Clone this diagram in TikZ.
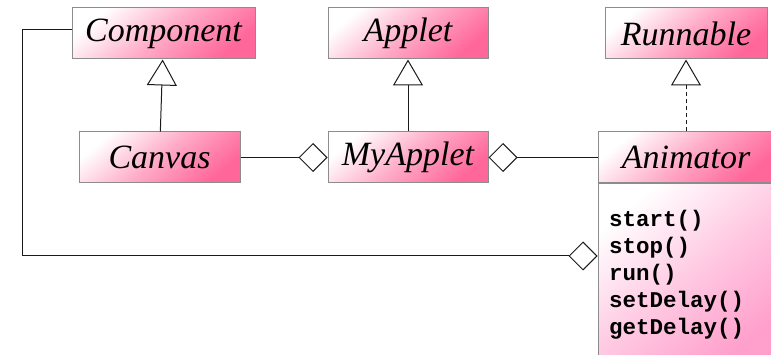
\documentclass[tikz,border=0pt]{standalone}
\usepackage{fontspec}
\setmainfont{Liberation Serif}
\setmonofont{Liberation Mono}
\usetikzlibrary{arrows.meta}
\definecolor{UmlBorder}{HTML}{8C8C8C}
\definecolor{UmlHead}{HTML}{FF6699}
\definecolor{UmlBody}{HTML}{FFA0CC}
\definecolor{UmlLine}{HTML}{1A1A1A}

\begin{document}
\begin{tikzpicture}[x=1pt, y=-1pt,
        cls/.style={draw=UmlBorder, line width=1pt, shading=axis, top color=white, bottom color=UmlHead, middle color=UmlHead!55, shading angle=40, minimum height=51pt, inner sep=0pt, font=\fontsize{34}{38}\selectfont\itshape},
        ops/.style={draw=UmlBorder, line width=1pt, shading=axis, top color=white, bottom color=UmlBody, middle color=UmlBody!55, shading angle=40, minimum width=176pt, minimum height=182pt, inner sep=0pt, inner xsep=11pt, align=left, anchor=north, font=\fontsize{22.5}{27}\selectfont\ttfamily\bfseries},
        conn/.style={draw=UmlLine, line width=1pt},
        inherit/.style={conn, -{Triangle[open, length=26pt, width=30pt, fill=white]}},
        realize/.style={inherit, dash pattern=on 4pt off 3pt},
        aggr/.style={conn, -{Diamond[open, length=29pt, width=29pt, fill=white]}}
    ]
        \useasboundingbox (0,0) rectangle (771,355);

        % Top row: base classes and interface
        \node[cls, minimum width=183pt] (component) at (163.5, 33.5) {Component};
        \node[cls, minimum width=160pt] (applet) at (408, 33.5) {Applet};
        \node[cls, minimum width=162pt] (runnable) at (686, 33.5) {Runnable};

        % Middle row
        \node[cls, minimum width=161pt] (canvas) at (159.5, 157.5) {Canvas};
        \node[cls, minimum width=160pt] (myapplet) at (408, 157.5) {MyApplet};
        \node[cls, minimum width=176pt] (animator) at (686, 157.5) {Animator};
        \node[ops, text width=154pt] (methods) at (animator.south) {start()\\stop()\\run()\\setDelay()\\getDelay()};

        % Connections
        \draw[inherit] (canvas) -- (component);
        \draw[inherit] (myapplet) -- (applet);
        \draw[realize] (animator) -- (runnable);
        \draw[aggr] (canvas) -- (myapplet);
        \draw[aggr] (animator) -- (myapplet);
        \coordinate (bend) at (22, 256);
        \draw[aggr] ([yshift=4pt]component.west) -| (bend) -- (bend -| methods.west);
    \end{tikzpicture}
\end{document}
